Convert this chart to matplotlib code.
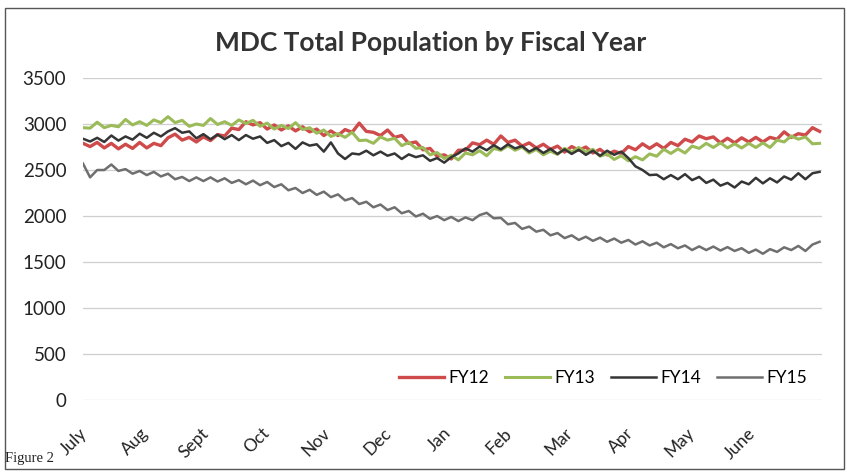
import numpy as np
import matplotlib
matplotlib.use("Agg")
import matplotlib.pyplot as plt
import matplotlib.transforms as mtransforms
from matplotlib.patches import Rectangle

# ---- data (semi-weekly readings, day of fiscal year = index * 3.5) ----
fy12 = [2790, 2755, 2800, 2740, 2790, 2730, 2780, 2735, 2800, 2740,
        2790, 2765, 2850, 2890, 2825, 2855, 2805, 2860, 2820, 2885,
        2870, 2955, 2940, 3025, 2990, 3015, 2945, 2990, 2935, 2980,
        2925, 2970, 2915, 2945, 2875, 2925, 2875, 2940, 2910, 3010,
        2920, 2910, 2875, 2935, 2855, 2875, 2790, 2805, 2720, 2735,
        2650, 2665, 2620, 2715, 2715, 2795, 2775, 2825, 2780, 2870,
        2800, 2825, 2760, 2795, 2740, 2780, 2725, 2760, 2695, 2755,
        2715, 2750, 2685, 2725, 2665, 2705, 2680, 2755, 2720, 2785,
        2735, 2785, 2735, 2800, 2765, 2835, 2805, 2870, 2840, 2860,
        2795, 2845, 2795, 2850, 2805, 2855, 2805, 2855, 2835, 2915,
        2855, 2895, 2880, 2960, 2920]
fy13 = [2960, 2955, 3020, 2960, 2985, 2970, 3050, 2990, 3025, 2985,
        3045, 3015, 3080, 3015, 3040, 2975, 3000, 2985, 3060, 2995,
        3025, 2985, 3045, 3005, 3040, 2975, 3010, 2945, 2985, 2950,
        3015, 2940, 2960, 2900, 2935, 2865, 2895, 2855, 2910, 2820,
        2825, 2790, 2860, 2825, 2845, 2765, 2800, 2735, 2745, 2665,
        2690, 2625, 2660, 2610, 2685, 2665, 2710, 2655, 2735, 2715,
        2765, 2715, 2750, 2685, 2725, 2665, 2705, 2670, 2735, 2695,
        2745, 2695, 2725, 2650, 2675, 2615, 2655, 2600, 2645, 2610,
        2675, 2650, 2725, 2680, 2730, 2685, 2760, 2735, 2790, 2745,
        2795, 2740, 2785, 2740, 2790, 2745, 2795, 2745, 2825, 2805,
        2870, 2835, 2860, 2785, 2790]
fy14 = [2840, 2810, 2850, 2805, 2875, 2820, 2865, 2830, 2895, 2850,
        2905, 2865, 2920, 2955, 2905, 2920, 2845, 2890, 2835, 2885,
        2835, 2880, 2825, 2880, 2840, 2865, 2795, 2825, 2760, 2795,
        2730, 2800, 2765, 2780, 2700, 2800, 2680, 2620, 2680, 2670,
        2710, 2660, 2700, 2655, 2680, 2620, 2670, 2640, 2660, 2600,
        2630, 2580, 2640, 2680, 2735, 2700, 2755, 2715, 2770, 2725,
        2780, 2735, 2760, 2700, 2740, 2685, 2730, 2675, 2725, 2675,
        2720, 2665, 2710, 2655, 2710, 2665, 2700, 2630, 2540, 2500,
        2445, 2450, 2400, 2445, 2400, 2455, 2390, 2425, 2360, 2395,
        2330, 2360, 2310, 2375, 2345, 2415, 2355, 2410, 2365, 2430,
        2395, 2465, 2400, 2465, 2480]
fy15 = [2570, 2420, 2500, 2500, 2560, 2490, 2510, 2460, 2490, 2445,
        2480, 2430, 2460, 2400, 2425, 2380, 2420, 2380, 2420, 2375,
        2410, 2360, 2390, 2345, 2385, 2335, 2370, 2315, 2345, 2280,
        2305, 2250, 2285, 2230, 2265, 2205, 2235, 2170, 2195, 2130,
        2155, 2095, 2125, 2065, 2095, 2030, 2055, 1995, 2025, 1970,
        2000, 1955, 1990, 1945, 1985, 1955, 2010, 2035, 1975, 1980,
        1910, 1925, 1860, 1885, 1830, 1850, 1790, 1815, 1760, 1790,
        1740, 1775, 1730, 1765, 1720, 1755, 1710, 1740, 1690, 1725,
        1680, 1710, 1660, 1695, 1650, 1680, 1630, 1670, 1630, 1668,
        1625, 1662, 1620, 1650, 1600, 1635, 1590, 1640, 1610, 1660,
        1630, 1675, 1620, 1690, 1720]
series_names = ["FY12", "FY13", "FY14", "FY15"]
month_labels = ["July", "Aug", "Sept", "Oct", "Nov", "Dec",
                "Jan", "Feb", "Mar", "Apr", "May", "June"]
label_days = [0, 30, 60, 90, 120, 150, 180, 210, 240, 270, 300, 330]
y_ticks = [0, 500, 1000, 1500, 2000, 2500, 3000, 3500]

days = np.arange(len(fy12)) * 3.5

colors = ["#cf4a4a", "#9bbb59", "#353535", "#6f6f6f"]
widths = [2.4, 2.2, 1.8, 1.8]

fig = plt.figure(figsize=(8.47, 4.72), dpi=100)
ax = fig.add_axes([0.098, 0.1525, 0.872, 0.6822])

for name, vals, c, lw in zip(series_names, [fy12, fy13, fy14, fy15], colors, widths):
    ax.plot(days, vals, color=c, lw=lw, label=name, solid_joinstyle="round")

ax.set_xlim(0, 365)
ax.set_ylim(0, 3500)
ax.set_yticks(y_ticks)
ax.set_yticklabels([str(v) for v in y_ticks], fontsize=13.5, family="Lato", color="#222222")
ax.set_xticks(label_days)
ax.set_xticklabels(month_labels, rotation=45, ha="right", rotation_mode="anchor",
                   fontsize=12.5, family="Lato", color="#222222")
ax.tick_params(axis="x", length=0, pad=18)
ax.tick_params(axis="y", length=0, pad=12)
ax.yaxis.grid(True, color="#cfcfcf", lw=0.9)
ax.set_axisbelow(True)
for s in ax.spines.values():
    s.set_visible(False)
offset = mtransforms.ScaledTranslation(-4 / 100, 0, fig.dpi_scale_trans)
for lbl in ax.get_xticklabels():
    lbl.set_transform(lbl.get_transform() + offset)

leg = ax.legend(loc="center", bbox_to_anchor=(0.704, 0.068), ncol=4, frameon=False,
                prop={"family": "Lato", "size": 12.5}, handlelength=2.6,
                columnspacing=0.9, handletextpad=0.25)

fig.text(0.508, 0.909, "MDC Total Population by Fiscal Year", ha="center", va="center",
         fontsize=19, fontweight="bold", family="Lato", color="#333333")
fig.text(0.006, 0.014, "Figure 2", ha="left", va="bottom", fontsize=10.5,
         family="Liberation Serif", color="#222222")

fig.patches.append(Rectangle((0.006, 0.006), 0.99, 0.976, transform=fig.transFigure,
                             fill=False, edgecolor="#555555", lw=1.0))

fig.savefig("out.png", dpi=100)
